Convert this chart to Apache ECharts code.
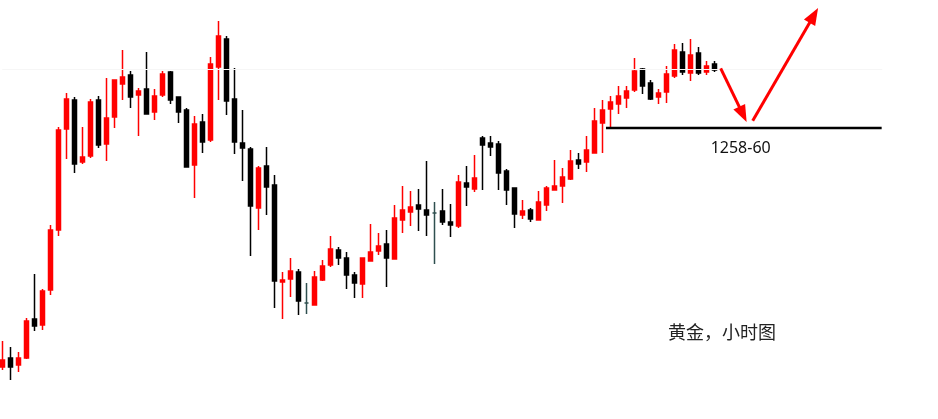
<!DOCTYPE html>
<html><head><meta charset="utf-8">
<script src="https://cdn.jsdelivr.net/npm/echarts@6/dist/echarts.min.js"></script>
<style>html,body{margin:0;padding:0;background:#fff}#c{width:938px;height:419px}</style>
</head><body><div id="c"></div>
<script>
// Gold, hourly candles (price units)
var openP = [1235.3,1236.2,1235.5,1236.2,1240.1,1239.5,1243.0,1249.0,1259.1,1262.0,
1255.8,1256.4,1262.0,1257.6,1260.3,1263.6,1264.5,1262.5,1263.1,1260.8,
1262.5,1264.8,1262.3,1261.0,1255.5,1259.8,1258.0,1265.3,1268.1,1262.1,
1257.7,1257.1,1251.2,1255.4,1253.5,1243.8,1244.1,1244.8,1241.7,1241.5,
1244.0,1245.5,1247.0,1246.2,1244.5,1243.6,1245.9,1246.9,1247.6,1246.1,
1250.0,1250.8,1251.5,1251.0,1250.7,1250.9,1249.8,1249.4,1253.7,1253.1,
1258.2,1257.7,1257.6,1254.9,1253.2,1250.5,1251.0,1250.0,1251.5,1253.0,
1253.4,1254.1,1256.0,1255.8,1256.7,1259.7,1261.1,1261.6,1262.2,1263.0,
1265.1,1263.7,1262.3,1262.8,1264.4,1266.8,1264.7,1266.7,1264.8,1265.6];
var closeP = [1236.0,1235.3,1236.2,1239.9,1239.4,1242.9,1249.0,1259.0,1262.1,1255.6,
1256.3,1261.8,1257.5,1260.2,1264.0,1264.3,1262.3,1262.9,1260.6,1262.4,
1264.6,1262.0,1260.8,1255.3,1259.6,1257.8,1265.6,1268.4,1261.9,1257.8,
1257.2,1251.4,1255.2,1253.3,1243.9,1244.0,1244.9,1241.9,1241.7,1244.3,
1245.4,1247.1,1246.2,1244.5,1243.7,1246.2,1246.8,1247.4,1246.2,1250.2,
1251.0,1251.3,1251.1,1250.5,1250.7,1249.8,1249.5,1253.8,1253.3,1254.2,
1257.5,1257.3,1254.7,1253.0,1250.6,1250.9,1250.1,1251.8,1253.2,1253.4,
1254.3,1255.9,1255.6,1257.0,1259.9,1261.0,1261.8,1262.4,1262.9,1264.9,
1263.4,1262.1,1262.7,1264.6,1267.0,1264.8,1266.5,1264.7,1265.4,1265.0];
var lowP = [1235.0,1234.0,1234.8,1236.1,1238.9,1239.0,1242.5,1248.4,1256.1,1254.7,
1255.6,1256.2,1257.2,1255.9,1259.2,1262.0,1261.2,1258.4,1260.6,1260.0,
1262.3,1261.6,1259.7,1255.3,1252.2,1256.7,1257.8,1262.0,1260.5,1256.6,
1253.9,1246.4,1249.0,1250.5,1241.2,1240.1,1242.3,1240.5,1240.6,1241.5,
1243.9,1245.3,1245.5,1243.1,1242.2,1242.2,1245.9,1246.5,1243.3,1246.1,
1248.7,1249.4,1248.9,1248.4,1245.6,1249.5,1248.3,1249.2,1251.4,1252.8,
1253.0,1256.4,1253.0,1251.5,1249.2,1250.1,1249.8,1250.0,1250.9,1253.0,
1251.7,1254.0,1255.1,1254.8,1256.7,1256.7,1259.2,1260.6,1261.2,1262.8,
1262.6,1262.0,1261.6,1261.7,1264.2,1264.5,1263.9,1264.5,1264.5,1264.8];
var highP = [1237.9,1237.3,1236.8,1240.2,1244.6,1243.1,1249.5,1259.3,1262.7,1262.3,
1259.3,1262.1,1262.4,1264.2,1264.0,1267.0,1264.9,1263.2,1266.8,1263.1,
1264.9,1264.9,1262.3,1261.2,1260.4,1260.6,1266.3,1269.9,1268.4,1265.2,
1261.0,1257.3,1255.4,1257.3,1254.5,1244.8,1246.2,1245.1,1243.7,1244.9,
1246.0,1248.4,1247.3,1246.8,1244.8,1246.2,1249.6,1248.7,1249.0,1251.5,
1253.4,1252.9,1253.1,1255.9,1251.8,1253.1,1251.6,1254.5,1255.4,1256.5,
1258.4,1258.4,1257.9,1255.1,1253.2,1252.0,1251.2,1252.9,1253.4,1256.0,
1255.2,1257.0,1256.7,1258.4,1261.2,1262.0,1262.4,1263.4,1263.4,1266.2,
1265.2,1264.0,1263.1,1265.4,1267.6,1267.7,1268.1,1267.3,1265.9,1265.9];

// Support level annotation
var levelPrice = 1259.2;
var levelLabel = '1258-60';
var levelSpan = [75.46, 109.92];
var faintLevel = 1265.1;
// forecast arrows: [startIdx, startPrice, endIdx, endPrice]
var arrowDown = [89.8, 1265.17, 92.58, 1260.56];
var arrowUp = [93.8, 1259.93, 101.44, 1270.46];
var chartTitle = '黄金，小时图';

var totalSlots = 111;
var categories = [];
for (var i = 0; i < totalSlots; i++) categories.push('H' + i);
var ohlc = openP.map(function (o, k) { return [o, closeP[k], lowP[k], highP[k]]; });

var chart = echarts.init(document.getElementById('c'), null, {renderer: 'canvas'});
chart.setOption({
  animation: false,
  backgroundColor: '#ffffff',
  title: {
    text: chartTitle, left: 668, top: 323, padding: 0,
    textStyle: {fontFamily: 'Noto Sans CJK SC', fontSize: 18, fontWeight: 'normal', color: '#222'}
  },
  grid: {left: 2.3, top: 0, width: 880, height: 400},
  xAxis: [
    {type: 'category', data: categories, boundaryGap: false, show: false},
    {type: 'value', min: 0, max: totalSlots - 1, show: false}
  ],
  yAxis: {type: 'value', min: 1232, max: 1272, show: false, splitLine: {show: false}},
  series: [
    {
      type: 'candlestick', data: ohlc, clip: false, barWidth: 4.5,
      itemStyle: {
        color: '#ff0000', color0: '#000000', borderColor: '#ff0000', borderColor0: '#000000',
        borderColorDoji: '#2f4f4f', borderWidth: 1.5
      },
      markLine: {
        silent: true, symbol: 'none', label: {show: false},
        lineStyle: {color: '#f6f6f6', width: 1, type: 'solid'},
        data: [{yAxis: faintLevel}]
      }
    },
    {
      type: 'line', xAxisIndex: 1, symbol: 'none', silent: true,
      data: [[levelSpan[0], levelPrice], [levelSpan[1], levelPrice]],
      lineStyle: {color: '#000', width: 2.5},
      markLine: {
        silent: true, symbol: ['none', 'triangle'], symbolSize: [13, 17],
        label: {show: false},
        lineStyle: {color: '#ff0000', width: 3, type: 'solid'},
        data: [
          [{coord: [arrowDown[0], arrowDown[1]]}, {coord: [arrowDown[2], arrowDown[3]]}],
          [{coord: [arrowUp[0], arrowUp[1]]}, {coord: [arrowUp[2], arrowUp[3]]}]
        ]
      }
    },
    {
      type: 'scatter', xAxisIndex: 1, symbolSize: 0, silent: true,
      data: [[92.3, 1257.17]],
      label: {show: true, position: 'inside', formatter: levelLabel,
        fontFamily: 'Noto Sans', fontSize: 16, color: '#111', opacity: 1}
    }
  ]
});
</script></body></html>
